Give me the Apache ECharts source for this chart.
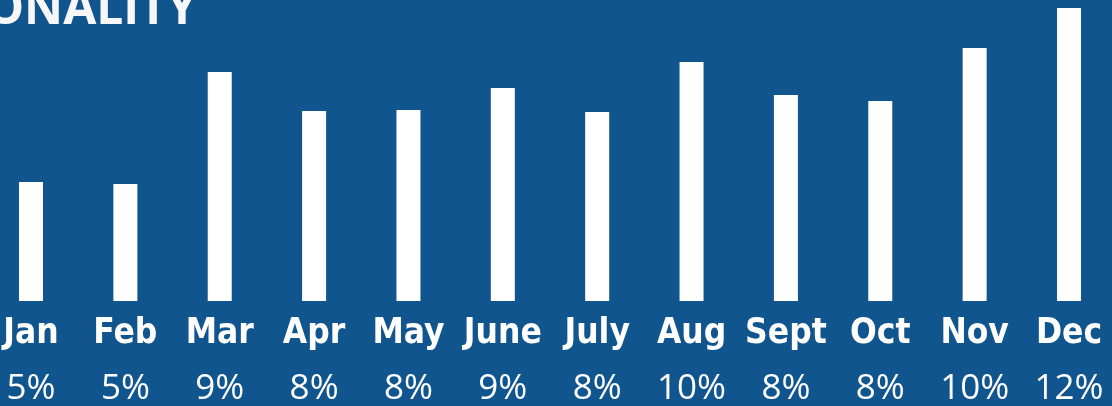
<!DOCTYPE html>
<html>
<head>
<meta charset="utf-8">
<style>
html,body{margin:0;padding:0;background:#11558f;}
#c{width:1112px;height:406px;}
</style>
<script src="https://cdn.jsdelivr.net/npm/echarts@6/dist/echarts.min.js"></script>
</head>
<body>
<div id="c"></div>
<script>
const title = 'SEASONALITY';
const months = ['Jan','Feb','Mar','Apr','May','June','July','Aug','Sept','Oct','Nov','Dec'];
const shares = ['5%','5%','9%','8%','8%','9%','8%','10%','8%','8%','10%','12%'];
const values = [119,117,229,190,191,213,189,239,206,200,253,293];

const chart = echarts.init(document.getElementById('c'), null, {renderer:'canvas'});
chart.setOption({
  backgroundColor:'#11558f',
  animation:false,
  grid:{left:31, right:43, top:0, bottom:105, containLabel:false, outerBoundsMode:'none'},
  xAxis:[{
    type:'category', data:months, position:'bottom', boundaryGap:false,
    axisLine:{show:false}, axisTick:{show:false}, splitLine:{show:false},
    axisLabel:{color:'#ffffff', fontFamily:'"DejaVu Sans Condensed", "Liberation Sans Narrow", Roboto, sans-serif', fontWeight:'bold', fontSize:35, margin:15, interval:0}
  },{
    type:'category', data:shares, position:'bottom', offset:64, boundaryGap:false,
    axisLine:{show:false}, axisTick:{show:false}, splitLine:{show:false},
    axisLabel:{color:'#ffffff', fontFamily:'"Open Sans"', fontSize:35, margin:7, interval:0}
  }],
  yAxis:{type:'value', min:0, max:301, show:false, splitLine:{show:false}},
  series:[{
    type:'bar', data:values, barWidth:24, xAxisIndex:0,
    itemStyle:{color:'#ffffff'}
  }],
  graphic:[{
    type:'text', x:197, y:34,
    style:{text:title, fill:'#f7f7f9', font:'bold 48px "Open Sans"', textAlign:'right', textVerticalAlign:'bottom'}
  }]
});
</script>
</body>
</html>
